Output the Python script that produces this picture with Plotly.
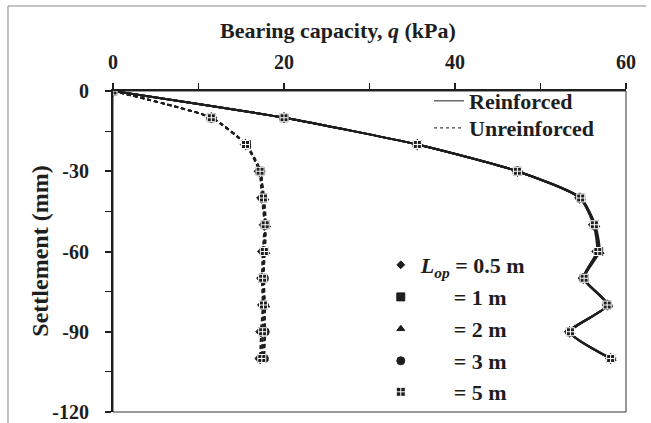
import plotly.graph_objects as go

# ---------------- data ----------------
settlement = [0, -10, -20, -30, -40, -50, -60, -70, -80, -90, -100]

lop_labels = ["0.5 m", "1 m", "2 m", "3 m", "5 m"]

reinforced_q = {
    "0.5 m": [0, 20.0, 35.6, 47.3, 54.6, 56.2, 56.6, 55.0, 57.8, 53.4, 58.2],
    "1 m":   [0, 20.0, 35.6, 47.3, 54.7, 56.3, 56.8, 55.1, 57.8, 53.5, 58.2],
    "2 m":   [0, 20.0, 35.6, 47.3, 54.7, 56.4, 56.9, 55.1, 57.9, 53.5, 58.3],
    "3 m":   [0, 20.0, 35.6, 47.3, 54.6, 56.3, 56.7, 55.0, 57.8, 53.4, 58.2],
    "5 m":   [0, 20.0, 35.6, 47.3, 54.7, 56.3, 56.7, 55.1, 57.8, 53.5, 58.2],
}

unreinforced_q = {
    "0.5 m": [0, 11.5, 15.5, 17.1, 17.4, 17.7, 17.5, 17.4, 17.5, 17.3, 17.2],
    "1 m":   [0, 11.5, 15.6, 17.2, 17.6, 17.8, 17.7, 17.5, 17.6, 17.5, 17.4],
    "2 m":   [0, 11.5, 15.6, 17.2, 17.7, 17.9, 17.8, 17.6, 17.8, 17.7, 17.6],
    "3 m":   [0, 11.6, 15.6, 17.3, 17.5, 17.8, 17.6, 17.7, 17.7, 17.8, 17.7],
    "5 m":   [0, 11.5, 15.5, 17.2, 17.6, 17.8, 17.7, 17.5, 17.6, 17.5, 17.4],
}

x_ticks = [0, 20, 40, 60]
x_ticktext = ["0", "20", "40", "60"]
y_ticks = [0, -30, -60, -90, -120]
y_ticktext = ["0", "-30", "-60", "-90", "-120"]

# ---------------- styles ----------------
SERIF = "Liberation Serif"
INK = "#1e1e1e"
symbols = {"0.5 m": "diamond", "1 m": "square", "2 m": "triangle-up",
           "3 m": "circle", "5 m": "square-cross"}
legend_sizes = {"0.5 m": 6, "1 m": 8, "2 m": 7, "3 m": 8, "5 m": 9}
legend_font = dict(family=SERIF, size=22, color=INK, weight="bold")

fig = go.Figure()

# data traces
for lab in lop_labels:
    sym = symbols[lab]
    mk = dict(symbol=sym, size=8, color=INK,
              line=dict(color="white" if sym == "square-cross" else INK, width=1))
    fig.add_trace(go.Scatter(
        x=unreinforced_q[lab], y=settlement, mode="lines+markers",
        line=dict(color=INK, width=1.8, dash="4px,3px", shape="spline", smoothing=0.5),
        marker=mk, showlegend=False, hoverinfo="skip"))
for lab in lop_labels:
    sym = symbols[lab]
    mk = dict(symbol=sym, size=8, color=INK,
              line=dict(color="white" if sym == "square-cross" else INK, width=1))
    fig.add_trace(go.Scatter(
        x=reinforced_q[lab], y=settlement, mode="lines+markers",
        line=dict(color=INK, width=2, shape="spline", smoothing=0.6),
        marker=mk, showlegend=False, hoverinfo="skip"))

# legends for line types (one legend per entry for exact placement)
fig.add_trace(go.Scatter(x=[None], y=[None], mode="lines", name="Reinforced",
                         line=dict(color="#444", width=1.2), legend="legend"))
fig.add_trace(go.Scatter(x=[None], y=[None], mode="lines", name="Unreinforced",
                         line=dict(color="#444", width=1.2, dash="3px,3px"), legend="legend2"))

# legends for L_op marker types
nb = "\u00a0"
for i, lab in enumerate(lop_labels):
    sym = symbols[lab]
    if i == 0:
        name = "<i>L</i><sub><i>op</i></sub> = " + lab
    else:
        name = nb * 6 + "= " + lab
    fig.add_trace(go.Scatter(
        x=[None], y=[None], mode="markers", name=name, legend=f"legend{i + 3}",
        marker=dict(symbol=sym, size=legend_sizes[lab], color=INK,
                    line=dict(color="white" if sym == "square-cross" else INK, width=1))))

tickfont = dict(family=SERIF, size=20, color=INK, weight="bold")

legend_layout = {}
line_leg_y = [0.9688, 0.8847]
for k, yy in enumerate(line_leg_y):
    key = "legend" if k == 0 else "legend2"
    legend_layout[key] = dict(x=0.616, y=yy, xanchor="left", yanchor="middle",
                              bgcolor="rgba(0,0,0,0)", font=legend_font, itemwidth=30)
mark_leg_y = [0.458, 0.358, 0.2586, 0.1589, 0.0623]
for k, yy in enumerate(mark_leg_y):
    legend_layout[f"legend{k + 3}"] = dict(x=0.522, y=yy, xanchor="left", yanchor="middle",
                                            bgcolor="rgba(0,0,0,0)", font=legend_font,
                                            itemwidth=30, itemsizing="trace")

fig.update_layout(
    width=651, height=423,
    margin=dict(l=113, r=25, t=91, b=11, autoexpand=False),
    paper_bgcolor="white", plot_bgcolor="white",
    xaxis=dict(range=[0, 60], side="top", tickvals=x_ticks, ticktext=x_ticktext,
               ticks="outside", ticklen=6, tickwidth=1.5, tickcolor=INK,
               showline=True, linecolor=INK, linewidth=2,
               minor=dict(dtick=10, ticks="outside", ticklen=6, tickcolor=INK, tickwidth=1),
               showgrid=False, zeroline=False, tickfont=tickfont, ticklabelstandoff=6),
    yaxis=dict(range=[-120, 0], tickvals=y_ticks, ticktext=y_ticktext,
               ticks="outside", ticklen=6, tickwidth=1.5, tickcolor=INK,
               showline=True, linecolor=INK, linewidth=2,
               minor=dict(dtick=15, ticks="outside", ticklen=6, tickcolor=INK, tickwidth=1),
               showgrid=False, zeroline=False, tickfont=tickfont, ticklabelstandoff=12),
    showlegend=True,
    **legend_layout,
)

# plot-area box (thin right/bottom border)
fig.add_shape(type="rect", xref="paper", yref="paper", x0=0, x1=1, y0=0, y1=1,
              line=dict(color="#333", width=1), layer="below")
# outer frame (top and left)
fig.add_shape(type="line", xref="paper", yref="paper", x0=-0.2047, x1=1.039, y0=1.2648, y1=1.2648,
              line=dict(color="#888", width=1))
fig.add_shape(type="line", xref="paper", yref="paper", x0=-0.2047, x1=-0.2047, y0=1.2648, y1=-0.05,
              line=dict(color="#888", width=1))

# axis titles
fig.add_annotation(text="Bearing capacity, <i>q</i> (kPa)", xref="paper", yref="paper",
                   x=0.4386, y=1.187, showarrow=False, xanchor="center", yanchor="middle",
                   font=dict(family=SERIF, size=22, color=INK, weight="bold"))
fig.add_annotation(text="Settlement (mm)", xref="paper", yref="paper",
                   x=-0.144, y=0.5, showarrow=False, textangle=-90,
                   xanchor="center", yanchor="middle",
                   font=dict(family=SERIF, size=24, color=INK, weight="bold"))

fig.write_html("out.html")
